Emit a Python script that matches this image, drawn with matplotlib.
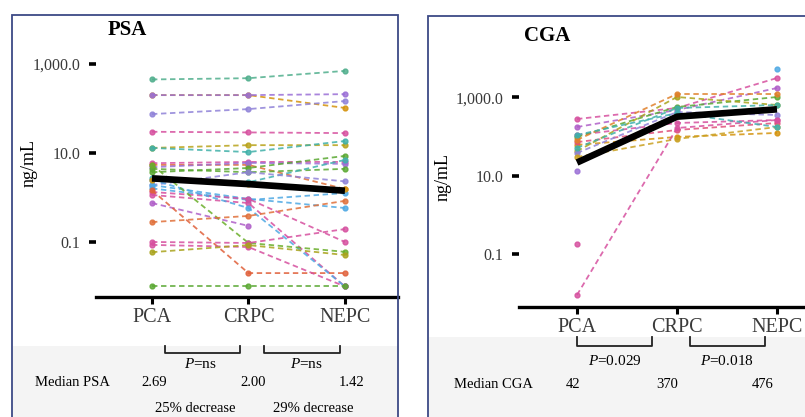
import numpy as np
import matplotlib.pyplot as plt
from matplotlib.patches import Rectangle
import matplotlib.transforms as mtransforms

plt.rcParams['font.family'] = ['Liberation Serif', 'DejaVu Serif']
plt.rcParams['mathtext.fontset'] = 'custom'
plt.rcParams['mathtext.it'] = 'Liberation Serif:italic'
plt.rcParams['mathtext.rm'] = 'Liberation Serif'

nan = np.nan
stages = ["PCA", "CRPC", "NEPC"]

# PSA per patient (ng/mL)
psa_pca  = [450, 200, 200, 75, 30, 13, 13, 5.9, 5.4, 4.8, 4.4, 3.7, 2.7, 1.9, 1.9, 1.6,
            1.33, 1.14, 2.5, 0.75, 1.45, 5.4, 0.28, 0.10, 0.086, 0.059, 0.010, 2.5]
psa_crpc = [480, 200, 200, 97, 29, 15, 10.5, 6.3, 5.4, 6.0, 3.7, 4.6, 2.2, 3.7, 0.93, 0.88,
            0.93, 0.75, 0.58, 0.23, 0.020, 0.095, 0.385, 0.095, 0.077, 0.085, 0.010, 2.0]
psa_nepc = [700, 103, 210, 147, 28, 15, 18.6, 6.3, 1.55, 5.7, 4.4, 8.6, 7.0, 2.3, 0.58, 1.26,
            0.10, 0.010, 0.010, nan, 0.020, 0.060, 0.84, 0.195, 0.010, 0.051, 0.010, 1.55]
psa_colors = ["#4fae8c", "#d4930d", "#9a6fd6", "#8f82d8", "#d6509f", "#b8a21a", "#3fb0a8",
              "#d6509f", "#e0703a", "#9a6fd6", "#5aa832", "#5aa832", "#3fb0b0", "#8f82d8",
              "#4ea8e3", "#4ea8e3", "#d6509f", "#d6509f", "#4ea8e3", "#b05fc8", "#e0603a",
              "#6aae2a", "#e0703a", "#d6509f", "#d6509f", "#a9a31c", "#5aa832", "#d4930d"]
psa_median = [2.69, 2.00, 1.42]
psa_median_text = ["2.69", "2.00", "1.42"]
psa_pvals = ["ns", "ns"]
psa_changes = ["25% decrease", "29% decrease"]

# CGA per patient (ng/mL)
cga_pca  = [283, 177, 111, 99, 62, 73, 43, 38.5, 30.5, 83, 13.4, 0.185, 0.0093, nan, 52, 111]
cga_crpc = [540, 481, 224, 573, 99, 149, 1030, 427, 88, 1227, nan, nan, 167, nan, 540, 400]
cga_nepc = [3140, 1746, 267, 1030, 125, 224, 644, 358, 177, 1227, nan, nan, 267, 5224, 644, 177]
cga_colors = ["#d6509f", "#b05fc8", "#d6509f", "#5aa832", "#d4930d", "#e0507a", "#a9a31c",
              "#8f82d8", "#c9a020", "#e0802a", "#9a6fd6", "#d6509f", "#d6509f", "#4ea8e3",
              "#3fb0a8", "#3fb0b0"]
cga_median_line = [22, 325, 500]
cga_median_text = ["42", "370", "476"]
cga_pvals = ["0.029", "0.018"]

W, H = 805, 417
fig = plt.figure(figsize=(W / 100, H / 100), dpi=100)


def fx(x):
    return x / W


def fy(y):
    return 1 - y / H


def panel(left, right, top, bottom, xl, yl, pca, crpc, nepc, colors, median):
    ax = fig.add_axes([fx(left), fy(bottom), fx(right) - fx(left), fy(top) - fy(bottom)])
    ax.set_facecolor("none")
    x = np.arange(3)
    for a, b, c, col in zip(pca, crpc, nepc, colors):
        ax.plot(x, [a, b, c], ls=(0, (3, 2)), lw=1.3, color=col, alpha=0.85,
                marker="o", ms=3.5, mec=col, zorder=2)
    ax.plot(x, median, color="black", lw=4.8, solid_capstyle="butt", zorder=5)
    ax.set_yscale("log")
    ax.set_xlim(*xl)
    ax.set_ylim(*yl)
    for s in ["left", "right", "top"]:
        ax.spines[s].set_visible(False)
    ax.spines["bottom"].set_linewidth(2.4)
    ax.set_xticks(x)
    ax.set_xticklabels(stages, fontsize=14.5, color="#3a3a3a")
    ax.tick_params(axis="x", length=5, width=2.2, pad=3)
    ax.set_yticks([0.1, 10, 1000])
    ax.set_yticklabels(["0.1", "10.0", "1,000.0"], fontsize=11.5, color="#3a3a3a")
    ax.yaxis.set_minor_locator(plt.NullLocator())
    ax.tick_params(axis="y", length=5, width=2.6, pad=6)
    return ax


def bracket(ax, x0, x1, ytop, ybot):
    tr = mtransforms.blended_transform_factory(ax.transData, fig.transFigure)
    ax.plot([x0, x0, x1, x1], [fy(ytop), fy(ybot), fy(ybot), fy(ytop)], color="#222222",
            lw=1.3, transform=tr, clip_on=False)
    return tr


# frames and grey footers
fig.add_artist(Rectangle((fx(13), 0), fx(398) - fx(13), fy(346), transform=fig.transFigure,
                         facecolor="#f4f4f4", edgecolor="none", zorder=0))
fig.add_artist(Rectangle((fx(429), 0), 1 - fx(429), fy(337), transform=fig.transFigure,
                         facecolor="#f4f4f4", edgecolor="none", zorder=0))
fig.add_artist(Rectangle((fx(12), fy(430)), fx(398) - fx(12), fy(15) - fy(430),
                         transform=fig.transFigure, fill=False, edgecolor="#3d4a86", lw=1.3))
fig.add_artist(Rectangle((fx(428), fy(430)), fx(830) - fx(428), fy(16) - fy(430),
                         transform=fig.transFigure, fill=False, edgecolor="#3d4a86", lw=1.3))

# PSA panel
ax1 = panel(96, 398, 50, 297, (-0.58, 2.55), (0.0058, 2065),
            psa_pca, psa_crpc, psa_nepc, psa_colors, psa_median)
fig.text(fx(108), fy(30), "PSA", fontsize=15, fontweight="bold", ha="left", va="center")
fig.text(fx(29), fy(163), "ng/mL", fontsize=13, rotation=90, ha="center", va="center")
tr = bracket(ax1, 0.13, 0.91, 346, 353)
bracket(ax1, 1.16, 1.95, 346, 353)
for xp, p in zip([0.5, 1.6], psa_pvals):
    ax1.text(xp, fy(364), "$P$=" + p, transform=tr, fontsize=11, ha="center", va="center")
fig.text(fx(35), fy(383), "Median PSA", fontsize=10.5, ha="left", va="center")
for xp, t in zip([0.02, 1.05, 2.07], psa_median_text):
    ax1.text(xp, fy(383), t, transform=tr, fontsize=10.5, ha="center", va="center")
for xp, t in zip([0.45, 1.67], psa_changes):
    ax1.text(xp, fy(409), t, transform=tr, fontsize=10.5, ha="center", va="center")

# CGA panel
ax2 = panel(519, 805, 55, 307, (-0.58, 2.28), (0.00459, 12100),
            cga_pca, cga_crpc, cga_nepc, cga_colors, cga_median_line)
fig.text(fx(524), fy(36), "CGA", fontsize=15, fontweight="bold", ha="left", va="center")
fig.text(fx(443), fy(177), "ng/mL", fontsize=13, rotation=90, ha="center", va="center")
tr = bracket(ax2, 0.0, 0.75, 337, 346)
bracket(ax2, 1.13, 1.88, 337, 346)
for xp, p in zip([0.375, 1.5], cga_pvals):
    ax2.text(xp, fy(361), "$P$=" + p, transform=tr, fontsize=11, ha="center", va="center")
fig.text(fx(454), fy(385), "Median CGA", fontsize=10.5, ha="left", va="center")
for xp, t in zip([-0.04, 0.9, 1.86], cga_median_text):
    ax2.text(xp, fy(385), t, transform=tr, fontsize=10.5, ha="center", va="center")

fig.savefig("out.png", dpi=100)
